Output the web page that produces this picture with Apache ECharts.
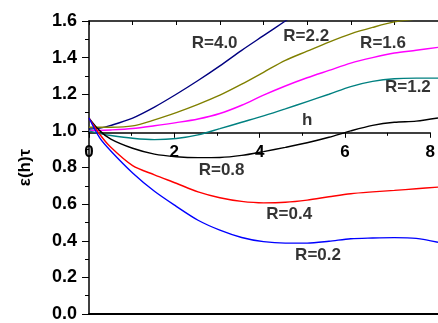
<!DOCTYPE html>
<html><head><meta charset="utf-8">
<script src="https://cdn.jsdelivr.net/npm/echarts@6/dist/echarts.min.js"></script>
<style>html,body{margin:0;padding:0;background:#fff}#c{width:438px;height:323px}</style>
</head><body><div id="c"></div>
<script>
const hValues = [0, 0.25, 0.5, 1, 1.5, 2, 2.5, 3, 3.5, 4, 4.5, 5, 5.5, 6, 6.5, 7, 7.5, 8];
const seriesNames = ['R=4.0', 'R=2.2', 'R=1.6', 'R=1.2', 'R=0.8', 'R=0.4', 'R=0.2'];
const r40 = [1.01, 1.015, 1.03, 1.07, 1.13, 1.2, 1.275, 1.355, 1.44, 1.52, 1.6, 1.68];
const r22 = [1.02, 1.02, 1.02, 1.027, 1.06, 1.1, 1.145, 1.195, 1.255, 1.32, 1.385, 1.435, 1.485, 1.53, 1.565, 1.595, 1.61, 1.62];
const r16 = [1.0, 1.003, 1.005, 1.013, 1.028, 1.045, 1.065, 1.095, 1.14, 1.195, 1.245, 1.29, 1.33, 1.37, 1.4, 1.425, 1.44, 1.456];
const r12 = [1.0, 0.985, 0.975, 0.96, 0.952, 0.958, 0.978, 1.012, 1.047, 1.082, 1.12, 1.16, 1.2, 1.242, 1.27, 1.285, 1.288, 1.288];
const r08 = [1.07, 1.0, 0.955, 0.905, 0.873, 0.859, 0.854, 0.855, 0.866, 0.887, 0.91, 0.935, 0.965, 1.0, 1.03, 1.047, 1.053, 1.07];
const r04 = [1.07, 0.98, 0.91, 0.81, 0.76, 0.714, 0.667, 0.635, 0.615, 0.607, 0.61, 0.622, 0.64, 0.657, 0.667, 0.675, 0.684, 0.693];
const r02 = [1.07, 0.96, 0.89, 0.77, 0.67, 0.588, 0.512, 0.458, 0.418, 0.395, 0.387, 0.387, 0.397, 0.411, 0.415, 0.417, 0.413, 0.392];
const xTicks = [0, 2, 4, 6, 8];
const yTicks = [0.0, 0.2, 0.4, 0.6, 0.8, 1.0, 1.2, 1.4, 1.6];
const labelPos = [[2.88, 1.477], [4.98, 1.519], [6.74, 1.477], [7.31, 1.236], [3.04, 0.785], [4.59, 0.543], [5.25, 0.318]];
const hLabelPos = [5.0, 1.058];

const colors = ['#000080', '#808000', '#ff00ff', '#008080', '#000000', '#ff0000', '#0000ff'];
const allData = [r40, r22, r16, r12, r08, r04, r02];
const FF = 'Arial, "Liberation Sans", sans-serif';

const chart = echarts.init(document.getElementById('c'), null, {renderer: 'canvas'});
const series = allData.map((vals, i) => ({
  type: 'line', name: seriesNames[i], xAxisIndex: 0, yAxisIndex: 0,
  data: vals.map((v, j) => [hValues[j], v]),
  smooth: 0.3, showSymbol: false, clip: true,
  lineStyle: {color: colors[i], width: 1.4}, itemStyle: {color: colors[i]},
  silent: true, animation: false
}));
series.push({
  type: 'scatter', xAxisIndex: 0, yAxisIndex: 0, symbolSize: 0, silent: true, animation: false,
  data: labelPos.map((p, i) => ({value: p, label: {formatter: seriesNames[i]}})).concat([{value: hLabelPos, label: {formatter: 'h'}}]),
  label: {show: true, position: 'inside', color: '#000', fontFamily: FF, fontWeight: 'bold', fontSize: 17}
});

const option = {
  animation: false,
  backgroundColor: '#fff',
  grid: [
    {left: 89, top: 21, right: -1.5, bottom: 3.7, show: false},
    {left: 89, top: 21, right: -1.5, height: 111.8, show: false}
  ],
  xAxis: [
    {gridIndex: 0, type: 'value', min: 0, max: 8, interval: 1, position: 'bottom',
     axisLine: {show: true, lineStyle: {color: '#000', width: 2}}, axisTick: {show: false},
     axisLabel: {show: false}, splitLine: {show: false}},
    {gridIndex: 0, type: 'value', min: 0, max: 8, interval: 1, position: 'top',
     axisLine: {show: true, lineStyle: {color: '#000', width: 1.5}},
     axisTick: {show: true, inside: true, length: 4, lineStyle: {color: '#000', width: 1}},
     axisLabel: {show: false}, splitLine: {show: false}},
    {gridIndex: 1, type: 'value', min: 0, max: 8, interval: 2, position: 'bottom',
     axisLine: {show: true, lineStyle: {color: '#000', width: 1.5}},
     axisTick: {show: true, inside: false, length: 5, lineStyle: {color: '#000', width: 1}},
     minorTick: {show: true, splitNumber: 2, length: 3, lineStyle: {color: '#000', width: 1}},
     axisLabel: {show: true, margin: 11, color: '#000', fontFamily: FF, fontWeight: 'bold', fontSize: 17,
       formatter: v => xTicks.includes(v) ? String(v) : ''},
     splitLine: {show: false}}
  ],
  yAxis: [
    {gridIndex: 0, type: 'value', min: 0, max: 1.6, interval: 0.2, position: 'left',
     name: 'ε(h)τ', nameLocation: 'middle', nameGap: 55, nameRotate: 90,
     nameTextStyle: {color: '#000', fontFamily: FF, fontWeight: 'bold', fontSize: 17},
     axisLine: {show: true, lineStyle: {color: '#000', width: 1.5}},
     axisTick: {show: true, inside: false, length: 7, lineStyle: {color: '#000', width: 1}},
     minorTick: {show: true, splitNumber: 2, length: 4, lineStyle: {color: '#000', width: 1}},
     axisLabel: {show: true, margin: 12, color: '#000', fontFamily: FF, fontWeight: 'bold', fontSize: 18,
       formatter: v => { const t = yTicks.find(y => Math.abs(y - v) < 1e-6); return t === undefined ? '' : t.toFixed(1); }},
     splitLine: {show: false}},
    {gridIndex: 1, type: 'value', min: 1, max: 1.6, show: false}
  ],
  series: series
};
chart.setOption(option);
</script>
</body></html>
